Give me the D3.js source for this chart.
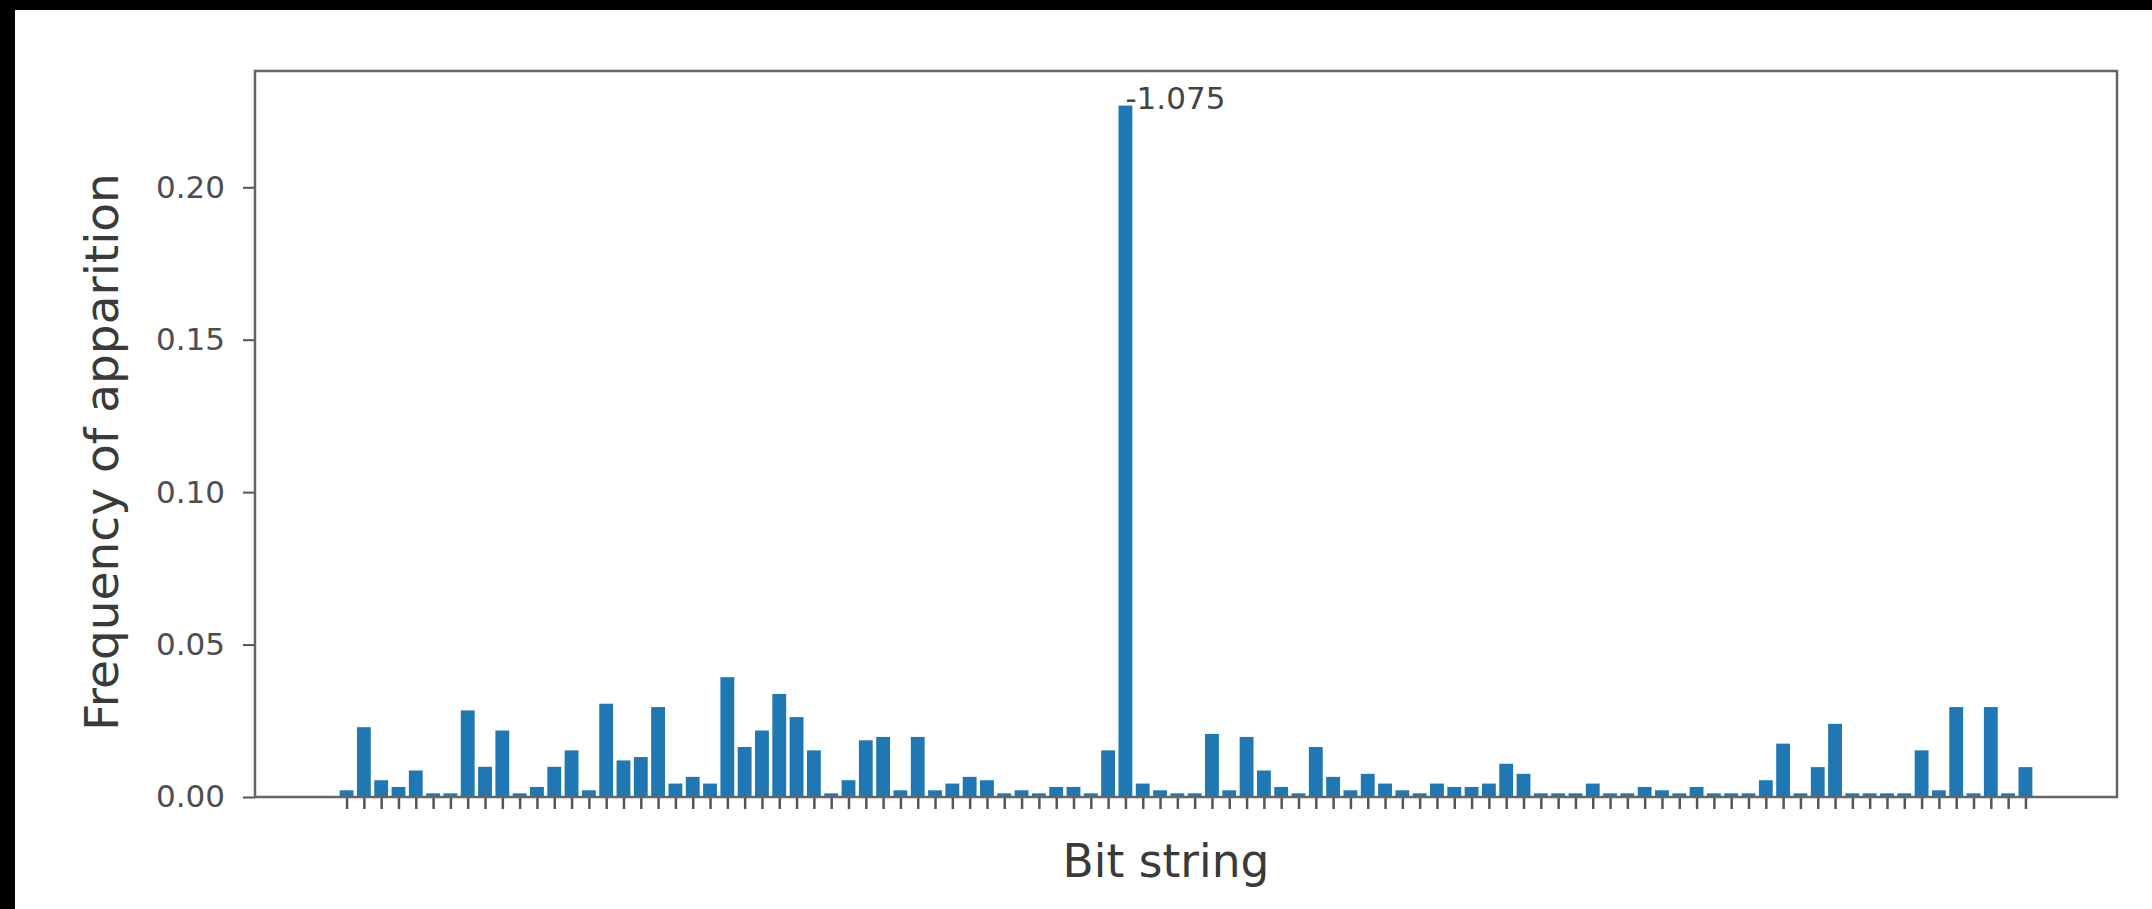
<!DOCTYPE html>
<html>
<head>
<meta charset="utf-8">
<script src="https://cdn.jsdelivr.net/npm/d3@7"></script>
<style>
  body { margin: 0; background: #000; }
  svg { display: block; }
  text { font-family: "DejaVu Sans", sans-serif; }
</style>
</head>
<body>
<div id="chart"></div>
<script>
// frequency of each measured bit string (labels are not shown on the axis)
var frequencies = [
  0.0022, 0.0229, 0.0055, 0.0033, 0.0087, 0.0012, 0.0012, 0.0284, 0.0099, 0.0218,
  0.0012, 0.0033, 0.0099, 0.0153, 0.0022, 0.0306, 0.0120, 0.0131, 0.0295, 0.0044,
  0.0066, 0.0044, 0.0393, 0.0164, 0.0218, 0.0338, 0.0262, 0.0153, 0.0012, 0.0055,
  0.0186, 0.0197, 0.0022, 0.0197, 0.0022, 0.0044, 0.0066, 0.0055, 0.0012, 0.0022,
  0.0012, 0.0033, 0.0033, 0.0012, 0.0153, 0.2268, 0.0044, 0.0022, 0.0012, 0.0012,
  0.0207, 0.0022, 0.0197, 0.0087, 0.0033, 0.0012, 0.0164, 0.0066, 0.0022, 0.0076,
  0.0044, 0.0022, 0.0012, 0.0044, 0.0033, 0.0033, 0.0044, 0.0109, 0.0076, 0.0012,
  0.0012, 0.0012, 0.0044, 0.0012, 0.0012, 0.0033, 0.0022, 0.0012, 0.0033, 0.0012,
  0.0012, 0.0012, 0.0055, 0.0175, 0.0012, 0.0098, 0.0240, 0.0012, 0.0012, 0.0012,
  0.0012, 0.0153, 0.0022, 0.0295, 0.0012, 0.0295, 0.0012, 0.0098
];
var yTicks = [0, 0.05, 0.10, 0.15, 0.20];
var peakLabel = "-1.075";
var xLabel = "Bit string";
var yLabel = "Frequency of apparition";

var W = 2152, H = 909;
var plot = { left: 255, right: 2117, top: 71, bottom: 797 };
var n = frequencies.length;
var barW = 0.8;

var svg = d3.select("#chart").append("svg")
  .attr("width", W).attr("height", H);

// black strip on the left and top, white page elsewhere
svg.append("rect").attr("width", W).attr("height", H).attr("fill", "#000");
svg.append("rect").attr("x", 15).attr("y", 10)
  .attr("width", W - 15).attr("height", H - 10).attr("fill", "#fff");

// matplotlib style limits: 5% margin on x, 5% headroom on y
var span = (n - 1 + barW);
var xScale = d3.scaleLinear()
  .domain([-barW / 2 - 0.05 * span, n - 1 + barW / 2 + 0.05 * span])
  .range([plot.left, plot.right]);
var yScale = d3.scaleLinear()
  .domain([0, d3.max(frequencies) * 1.05])
  .range([plot.bottom, plot.top]);

// bars
svg.append("g").selectAll("rect").data(frequencies).enter().append("rect")
  .attr("x", function (d, i) { return xScale(i - barW / 2); })
  .attr("width", function (d, i) { return xScale(i + barW / 2) - xScale(i - barW / 2); })
  .attr("y", function (d) { return yScale(d); })
  .attr("height", function (d) { return yScale(0) - yScale(d); })
  .attr("fill", "#1f77b4");

// y axis
var yAxisG = svg.append("g")
  .attr("transform", "translate(" + plot.left + ",0)")
  .call(d3.axisLeft(yScale).tickValues(yTicks).tickFormat(d3.format(".2f"))
    .tickSize(12).tickPadding(18));
yAxisG.select(".domain").remove();
yAxisG.selectAll(".tick line").attr("stroke", "#555").attr("stroke-width", 2);
yAxisG.selectAll(".tick text").attr("fill", "#4d4d4d").style("font-size", "31px");

// x axis: one unlabeled tick per bit string
var xAxisG = svg.append("g")
  .attr("transform", "translate(0," + plot.bottom + ")")
  .call(d3.axisBottom(xScale).tickValues(d3.range(n)).tickFormat("")
    .tickSize(12));
xAxisG.select(".domain").remove();
xAxisG.selectAll(".tick line").attr("stroke", "#555").attr("stroke-width", 2.5);

// frame
svg.append("rect")
  .attr("x", plot.left).attr("y", plot.top)
  .attr("width", plot.right - plot.left).attr("height", plot.bottom - plot.top)
  .attr("fill", "none").attr("stroke", "#666").attr("stroke-width", 2.5);

// label on the tallest bar
var peakIndex = frequencies.indexOf(d3.max(frequencies));
svg.append("text")
  .attr("x", xScale(peakIndex))
  .attr("y", yScale(frequencies[peakIndex]) + 3)
  .attr("fill", "#444")
  .style("font-size", "31px")
  .text(peakLabel);

// axis titles
svg.append("text")
  .attr("x", 1166).attr("y", 877)
  .attr("text-anchor", "middle")
  .attr("fill", "#3a3a3a")
  .style("font-size", "45.5px")
  .text(xLabel);
svg.append("text")
  .attr("transform", "translate(118,452) rotate(-90)")
  .attr("text-anchor", "middle")
  .attr("fill", "#3a3a3a")
  .style("font-size", "47px")
  .text(yLabel);
</script>
</body>
</html>
